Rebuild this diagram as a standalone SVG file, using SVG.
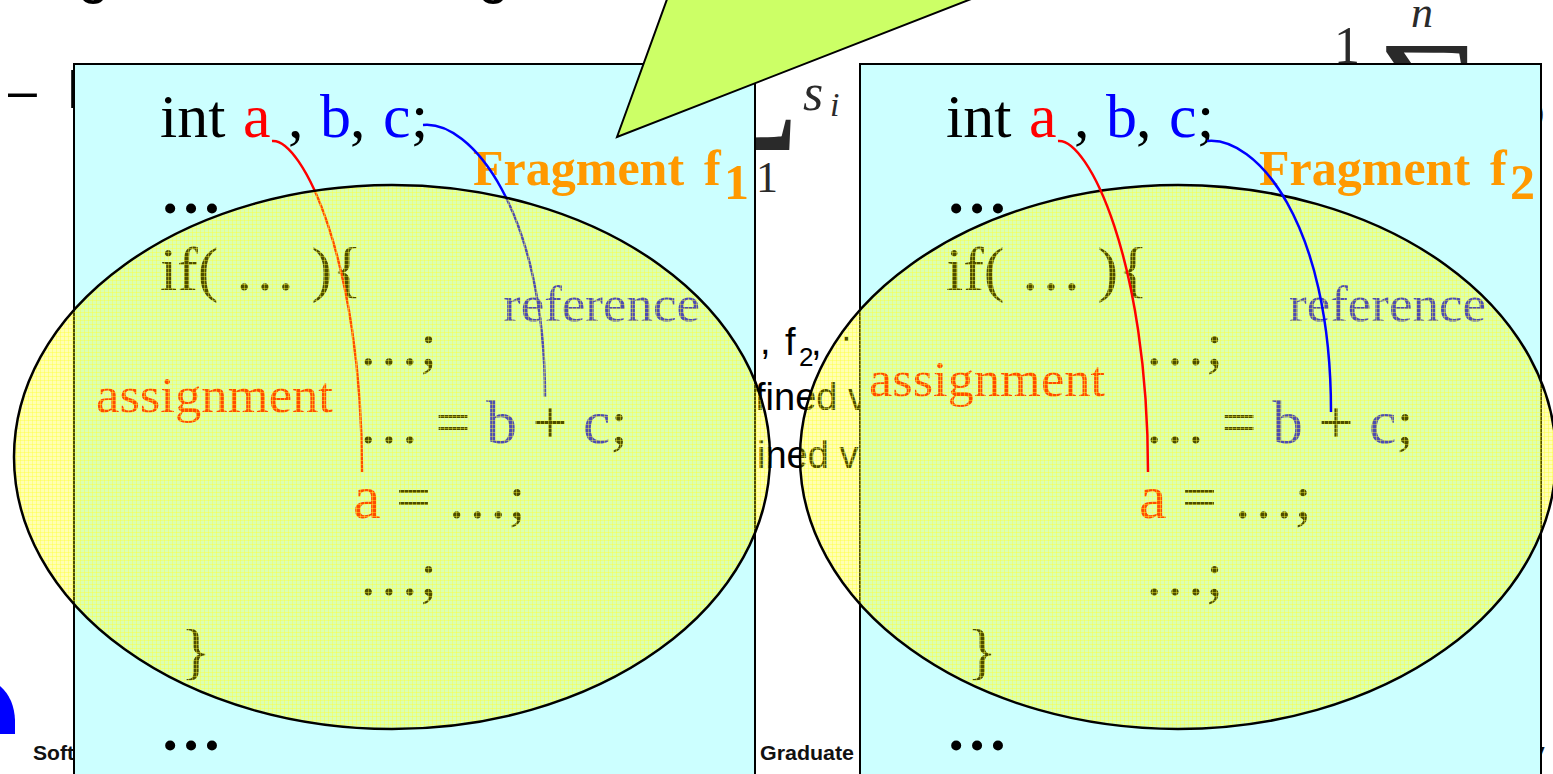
<svg xmlns="http://www.w3.org/2000/svg" width="1553" height="774" viewBox="0 0 1553 774">
<defs>
<style>
.code{font-family:"Liberation Serif","Times New Roman",serif;font-size:62px;fill:#000}
.lbl{font-family:"Liberation Serif","Times New Roman",serif;font-size:50px}
.frag{font-family:"Liberation Serif","Times New Roman",serif;font-size:50px;font-weight:bold;fill:#FF9900}
.sans{font-family:"Liberation Sans",Arial,sans-serif;fill:#000}
.foot{font-family:"Liberation Sans",Arial,sans-serif;font-size:21px;font-weight:bold;fill:#111}
.math{font-family:"Liberation Serif","DejaVu Serif",serif;fill:#2a2a2a}
.box{fill:#CCFFFF;stroke:#000;stroke-width:2}
.ell{stroke:#000;stroke-width:2.5}
.red{fill:#FF0000}
.blue{fill:#0000FF}
.cr{fill:none;stroke:#FF0000;stroke-width:2.5}
.cb{fill:none;stroke:#0000FF;stroke-width:2.5}
</style>
<pattern id="grid" width="4" height="4" patternUnits="userSpaceOnUse">
<rect width="4" height="4" fill="#FFFF00" fill-opacity="0.3"/>
<path d="M0,0.5H4M0.5,0V4" stroke="#FFFF33" stroke-opacity="0.4" stroke-width="1"/>
</pattern>
</defs>
<rect width="1553" height="774" fill="#FFFFFF"/>
<g id="background">
<text class="sans" x="78" y="-8" font-size="56">g</text>
<text class="sans" x="478" y="-8" font-size="56">g</text>
<text class="sans" x="8" y="108" font-size="52">–</text>
<text class="sans" x="66" y="108" font-size="56">I</text>
<text class="math" x="694" y="118" font-size="150">∑</text>
<text class="math" x="756" y="192" font-size="44">1</text>
<text class="math" x="803" y="110" font-size="52" font-style="italic">s</text>
<text class="math" x="830" y="116" font-size="34" font-style="italic">i</text>
<text class="math" x="1334" y="63" font-size="52">1</text>
<text class="math" x="1376" y="144" font-size="150">∑</text>
<text class="math" x="1411" y="27" font-size="44" font-style="italic">n</text>
<text class="math" x="1534" y="122" font-size="30">)</text>
<text class="sans" x="760" y="354" font-size="38">,</text>
<text class="sans" x="785" y="355" font-size="38">f</text>
<text class="sans" x="799" y="366" font-size="26">2</text>
<text class="sans" x="811" y="355" font-size="38">,</text>
<text class="sans" x="840" y="350" font-size="38">·</text>
<text class="sans" x="755" y="410" font-size="38">fined v</text>
<text class="sans" x="757" y="468" font-size="38">ined v</text>
<text class="foot" x="33" y="760" textLength="41" lengthAdjust="spacingAndGlyphs">Soft</text>
<text class="foot" x="760" y="760" textLength="94" lengthAdjust="spacingAndGlyphs">Graduate</text>
<text class="foot" x="1533" y="758">y</text>
<path d="M0,686 Q14,698 15,720 L15,734 L0,734 Z" fill="#0000FF"/>
</g>
<g id="fragment1">
<rect class="box" x="74" y="64" width="681" height="730"/>
<text class="code" y="137"><tspan x="160">int</tspan><tspan x="243" class="red">a</tspan><tspan x="288">,</tspan><tspan x="320" class="blue">b</tspan><tspan x="350">,</tspan><tspan x="383" class="blue">c</tspan><tspan x="411">;</tspan></text>
<text class="code" x="160" y="213" font-weight="bold">…</text>
<text class="code" x="160" y="290">if( … ){</text>
<text class="code" x="358" y="365">…;</text>
<text class="code" x="358" y="443">… = <tspan class="blue">b</tspan> + <tspan class="blue">c</tspan>;</text>
<text class="code" x="353" y="518"><tspan class="red">a</tspan> = …;</text>
<text class="code" x="358" y="595">…;</text>
<text class="code" x="181" y="672">}</text>
<text class="code" x="160" y="750" font-weight="bold">…</text>
<text class="lbl blue" x="503" y="321" textLength="197" lengthAdjust="spacingAndGlyphs">reference</text>
<text class="lbl red" x="96" y="412" font-size="54" textLength="237" lengthAdjust="spacingAndGlyphs">assignment</text>
<text class="frag" x="473" y="185">Fragment</text>
<text class="frag" x="704" y="185">f</text>
<text class="frag" x="724" y="199" font-size="34">1</text>
<g id="connectors1">
<path class="cr" d="M272,141 C302,138 362,260 362,472"/>
<path class="cb" d="M423,125 C470,120 545,210 545,397"/>
</g>
<ellipse class="ell" cx="392" cy="457" rx="378" ry="272" fill="url(#grid)"/>
</g>
<g id="fragment2">
<rect class="box" x="860" y="64" width="681" height="730"/>
<text class="code" y="137"><tspan x="946">int</tspan><tspan x="1029" class="red">a</tspan><tspan x="1074">,</tspan><tspan x="1106" class="blue">b</tspan><tspan x="1136">,</tspan><tspan x="1169" class="blue">c</tspan><tspan x="1197">;</tspan></text>
<text class="code" x="946" y="213" font-weight="bold">…</text>
<text class="code" x="946" y="290">if( … ){</text>
<text class="code" x="1144" y="365">…;</text>
<text class="code" x="1144" y="443">… = <tspan class="blue">b</tspan> + <tspan class="blue">c</tspan>;</text>
<text class="code" x="1139" y="518"><tspan class="red">a</tspan> = …;</text>
<text class="code" x="1144" y="595">…;</text>
<text class="code" x="967" y="672">}</text>
<text class="code" x="946" y="750" font-weight="bold">…</text>
<text class="lbl blue" x="1289" y="321" textLength="197" lengthAdjust="spacingAndGlyphs">reference</text>
<text class="lbl red" x="869" y="396" font-size="54" textLength="236" lengthAdjust="spacingAndGlyphs">assignment</text>
<text class="frag" x="1259" y="185">Fragment</text>
<text class="frag" x="1490" y="185">f</text>
<text class="frag" x="1510" y="199" font-size="34">2</text>
<ellipse class="ell" cx="1178" cy="457" rx="378" ry="272" fill="url(#grid)"/>
<g id="connectors2">
<path class="cr" d="M1058,141 C1088,138 1148,260 1148,472"/>
<path class="cb" d="M1207,141 C1255,136 1331,220 1331,412"/>
</g>
</g>
<g id="callout">
<polygon points="617,137 674,-20 1020,-20" fill="#CCFF66" stroke="#000" stroke-width="2"/>
</g>
</svg>
